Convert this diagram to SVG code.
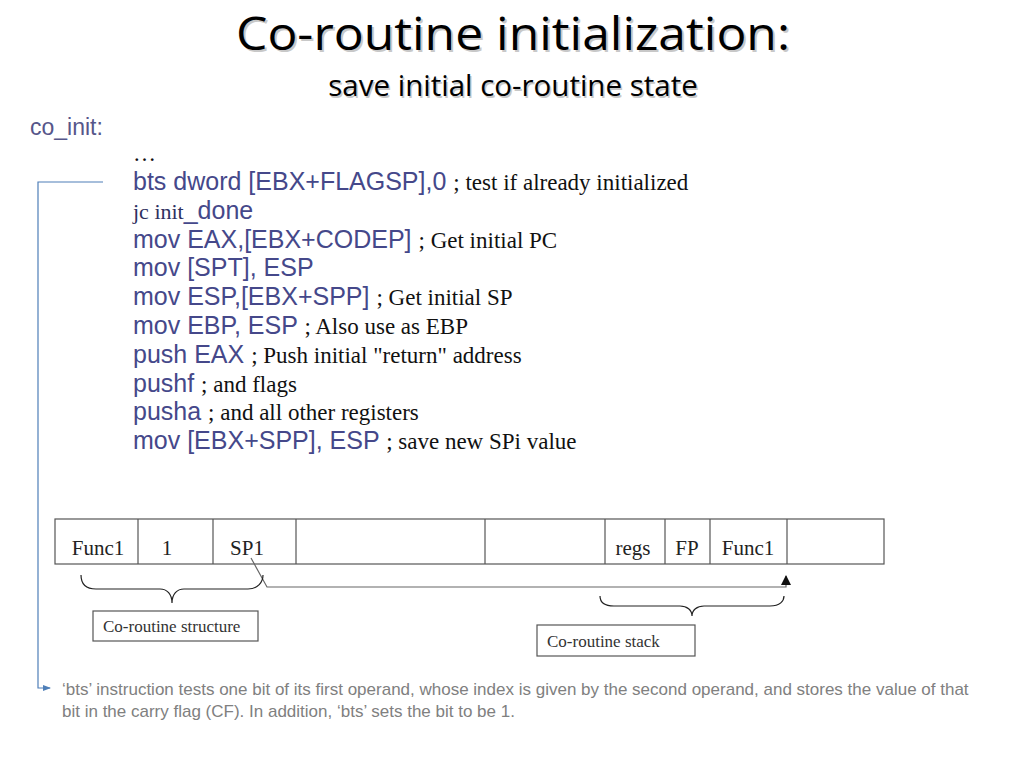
<svg xmlns="http://www.w3.org/2000/svg" width="1024" height="768" viewBox="0 0 1024 768">
<defs>
<style>
.title{font-family:"Open Sans","Liberation Sans",sans-serif;fill:#000}
.shadow{fill:#c8c8c8}
.code{font-family:"Liberation Sans",Arial,sans-serif;font-size:25px;fill:#45488a}
.cmt{font-family:"Liberation Serif","Times New Roman",serif;font-size:23px;fill:#111}
.cell{font-family:"Liberation Serif","Times New Roman",serif;font-size:21px;fill:#222;text-anchor:middle}
.lbl{font-family:"Liberation Serif","Times New Roman",serif;font-size:17px;fill:#333}
.note{font-family:"Liberation Sans",Arial,sans-serif;font-size:17px;fill:#808080}
.box{fill:#fff;stroke:#555;stroke-width:1.2}
.brace{fill:none;stroke:#222;stroke-width:1.2}
.ptr{fill:none;stroke:#666;stroke-width:1.2}
.blue{fill:none;stroke:#4f7fb8;stroke-width:1.2}
</style>
<marker id="arrBlue" markerWidth="8" markerHeight="8" refX="7" refY="4" orient="auto" markerUnits="userSpaceOnUse">
<path d="M0,1 L8,4 L0,7 Z" fill="#4f7fb8"/>
</marker>
<marker id="arrBlk" markerWidth="10" markerHeight="12" refX="9" refY="5" orient="auto" markerUnits="userSpaceOnUse">
<path d="M0,0 L10,5 L0,10 Z" fill="#111"/>
</marker>
</defs>
<rect width="1024" height="768" fill="#fff"/>

<g id="title">
<text x="513" y="50" class="title shadow" font-size="45" text-anchor="middle" textLength="554" lengthAdjust="spacingAndGlyphs" transform="translate(2,2)">Co-routine initialization:</text>
<text x="513" y="50" class="title" font-size="45" text-anchor="middle" textLength="554" lengthAdjust="spacingAndGlyphs">Co-routine initialization:</text>
<text x="513" y="96" class="title shadow" font-size="29.5" text-anchor="middle" transform="translate(1.5,1.5)">save initial co-routine state</text>
<text x="513" y="96" class="title" font-size="29.5" text-anchor="middle">save initial co-routine state</text>
</g>

<g id="label-coinit">
<text x="30" y="135" font-family="Liberation Sans, Arial, sans-serif" font-size="23" fill="#56568a">co_init:</text>
</g>

<g id="code">
<text x="133" y="161" class="cmt">…</text>
<text x="133" y="190" class="code">bts dword [EBX+FLAGSP],0 <tspan class="cmt">; test if already initialized</tspan></text>
<text x="133" y="219"><tspan class="cmt" style="fill:#2e3160;font-size:22px">jc init</tspan><tspan class="code">_done</tspan></text>
<text x="133" y="248" class="code">mov EAX,[EBX+CODEP] <tspan class="cmt">; Get initial PC</tspan></text>
<text x="133" y="276" class="code">mov [SPT], ESP</text>
<text x="133" y="305" class="code">mov ESP,[EBX+SPP] <tspan class="cmt">; Get initial SP</tspan></text>
<text x="133" y="334" class="code">mov EBP, ESP <tspan class="cmt">; Also use as EBP</tspan></text>
<text x="133" y="363" class="code">push EAX <tspan class="cmt">; Push initial "return" address</tspan></text>
<text x="133" y="392" class="code">pushf <tspan class="cmt">; and flags</tspan></text>
<text x="133" y="420" class="code">pusha <tspan class="cmt">; and all other registers</tspan></text>
<text x="133" y="449" class="code">mov [EBX+SPP], ESP <tspan class="cmt">; save new SPi value</tspan></text>
</g>

<g id="memory-row">
<rect x="55" y="519" width="829" height="45" class="box"/>
<g stroke="#555" stroke-width="1.2">
<line x1="138" y1="519" x2="138" y2="564"/>
<line x1="213" y1="519" x2="213" y2="564"/>
<line x1="296" y1="519" x2="296" y2="564"/>
<line x1="485" y1="519" x2="485" y2="564"/>
<line x1="605" y1="519" x2="605" y2="564"/>
<line x1="665" y1="519" x2="665" y2="564"/>
<line x1="710" y1="519" x2="710" y2="564"/>
<line x1="787" y1="519" x2="787" y2="564"/>
</g>
<text x="98" y="555" class="cell">Func1</text>
<text x="167" y="555" class="cell">1</text>
<text x="247" y="555" class="cell">SP1</text>
<text x="633" y="555" class="cell">regs</text>
<text x="687" y="555" class="cell">FP</text>
<text x="748" y="555" class="cell">Func1</text>
</g>

<g id="structure-label">
<rect x="93" y="611" width="165" height="30" class="box"/>
<text x="103" y="632" class="lbl">Co-routine structure</text>
</g>

<g id="stack-label">
<rect x="537" y="625" width="158" height="31" class="box"/>
<text x="547" y="647" class="lbl">Co-routine stack</text>
</g>

<g id="footnote">
<text x="62" y="695" class="note">‘bts’ instruction tests one bit of its first operand, whose index is given by the second operand, and stores the value of that</text>
<text x="62" y="717" class="note">bit in the carry flag (CF). In addition, ‘bts’ sets the bit to be 1.</text>
</g>

<g id="connectors">
<path class="blue" d="M103,182 H38 V688 H50" marker-end="url(#arrBlue)"/>
<path class="ptr" d="M251,558 L267,587 H786 V576" marker-end="url(#arrBlk)"/>
<path class="brace" d="M81,575 C81,582 84,589 96,589 H160 C167,589 172,594 172,603 C172,594 177,589 184,589 H248 C258,589 263,582 263,575"/>
<path class="brace" d="M600,596 C600,601 603,606 614,606 H680 C687,606 692,610 692,616 C692,610 697,606 704,606 H770 C780,606 784,601 784,596"/>
</g>
</svg>
